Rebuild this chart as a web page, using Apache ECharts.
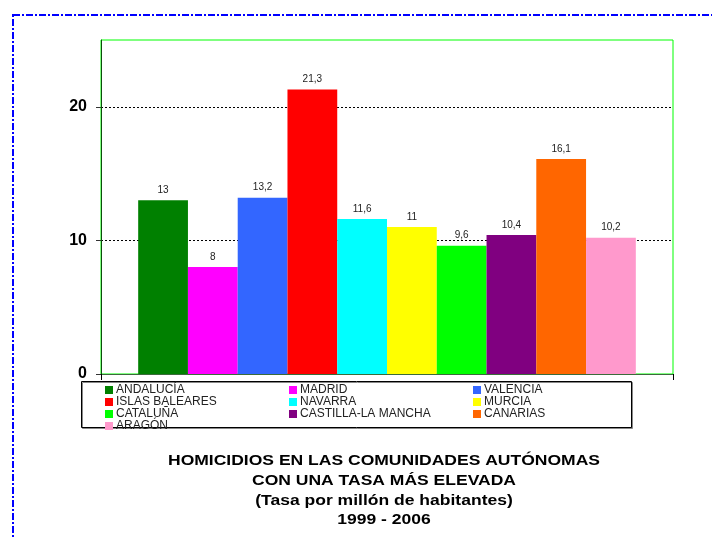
<!DOCTYPE html>
<html>
<head>
<meta charset="utf-8">
<title>Homicidios CCAA</title>
<script src="https://cdn.jsdelivr.net/npm/echarts@6/dist/echarts.min.js"></script>
<style>
  html, body { margin: 0; padding: 0; background: #fff; }
  #chart { width: 712px; height: 537px; }
</style>
</head>
<body>
<div id="chart"></div>
<script>
// data
var regions = ['ANDALUCÍA', 'MADRID', 'VALENCIA', 'ISLAS BALEARES', 'NAVARRA', 'MURCIA', 'CATALUÑA', 'CASTILLA-LA MANCHA', 'CANARIAS', 'ARAGÓN'];
var rates = [13, 8, 13.2, 21.3, 11.6, 11, 9.6, 10.4, 16.1, 10.2];
var barColors = ['#008000', '#ff00ff', '#3366ff', '#ff0000', '#00ffff', '#ffff00', '#00ff00', '#800080', '#ff6600', '#ff99cc'];
var yTicks = [0, 10, 20];
var titleLines = [
  'HOMICIDIOS EN LAS COMUNIDADES AUTÓNOMAS',
  'CON UNA TASA MÁS ELEVADA',
  '(Tasa por millón de habitantes)',
  '1999 - 2006'
];

var font = '"Liberation Sans", Arial, sans-serif';

var chart = echarts.init(document.getElementById('chart'));

// one bar series per region, all in a single category
var series = regions.map(function (name, i) {
  return {
    name: name,
    type: 'bar',
    data: [rates[i]],
    barGap: '0%',
    barCategoryGap: '13%',
    itemStyle: { color: barColors[i] },
    label: {
      show: true,
      position: 'top',
      distance: 5,
      fontFamily: font,
      fontSize: 10,
      color: '#222',
      formatter: function (p) {
        return String(p.value).replace('.', ',');
      }
    }
  };
});

// legend laid out in three columns, like the original
function legendColumn(names, left) {
  return {
    orient: 'vertical',
    left: left,
    top: 384,
    padding: 0,
    itemGap: 0,
    itemWidth: 8,
    itemHeight: 8,
    itemStyle: { borderWidth: 0 },
    icon: 'rect',
    selectedMode: false,
    textStyle: { fontFamily: font, fontSize: 12, color: '#222', lineHeight: 10.5, padding: [0, 0, 0, -2] },
    data: names
  };
}

var legendCols = [[], [], []];
regions.forEach(function (name, i) { legendCols[i % 3].push(name); });

var graphics = [
  {
    type: 'rect',
    silent: true,
    shape: { x: 13, y: 15, width: 720, height: 540 },
    style: { fill: 'none', stroke: '#0000ff', lineWidth: 2, lineDash: [7, 2, 2, 2] }
  },
  {
    type: 'rect',
    silent: true,
    z: -1,
    shape: { x: 81.5, y: 381.5, width: 550, height: 46 },
    style: { fill: '#fff', stroke: '#000', lineWidth: 1, shadowColor: '#888', shadowOffsetX: 1, shadowOffsetY: 1 }
  }
];
titleLines.forEach(function (t, i) {
  graphics.push({
    type: 'text',
    silent: true,
    x: 384,
    y: 461 + i * 19.7,
    scaleX: 1.13,
    style: {
      text: t,
      fontFamily: font,
      fontWeight: 'bold',
      fontSize: 15.5,
      fill: '#000',
      align: 'center',
      verticalAlign: 'middle'
    }
  });
});

var option = {
  animation: false,
  backgroundColor: '#fff',
  grid: {
    left: 101,
    top: 40,
    width: 572,
    height: 334,
    show: true,
    borderColor: '#00ff00',
    borderWidth: 1,
    backgroundColor: 'transparent'
  },
  legend: [
    legendColumn(legendCols[0], 105),
    legendColumn(legendCols[1], 289),
    legendColumn(legendCols[2], 473)
  ],
  xAxis: {
    type: 'category',
    data: [''],
    boundaryGap: true,
    axisLine: { lineStyle: { color: '#3a6b3a', width: 1 } },
    axisTick: { show: true, length: 6, lineStyle: { color: '#000' } },
    axisLabel: { show: false },
    splitLine: { show: false }
  },
  yAxis: {
    type: 'value',
    min: 0,
    max: 25,
    interval: 10,
    axisLine: { show: true, lineStyle: { color: '#0b4f0b', width: 1 } },
    axisTick: { show: true, length: 5, customValues: yTicks, lineStyle: { color: '#333' } },
    axisLabel: {
      margin: 14,
      customValues: yTicks,
      fontFamily: font,
      fontWeight: 'bold',
      fontSize: 16,
      color: '#000'
    },
    splitLine: {
      show: true,
      lineStyle: { color: ['#000', '#000', '#000', '#00ff00'], type: [2, 2], width: 1 }
    }
  },
  graphic: graphics,
  series: series
};

chart.setOption(option);
</script>
</body>
</html>
